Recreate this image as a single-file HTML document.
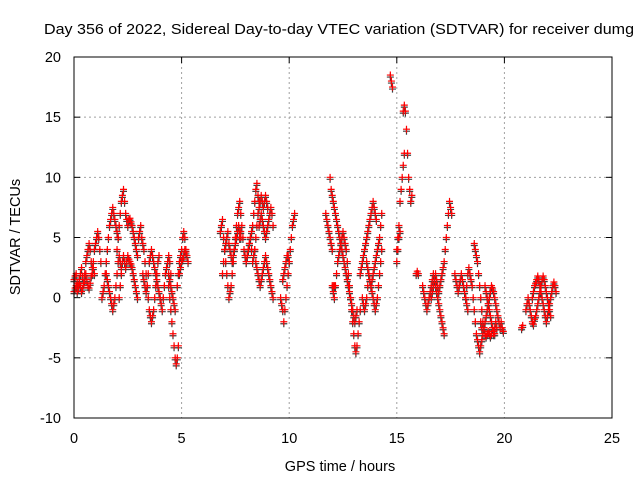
<!DOCTYPE html>
<html><head><meta charset="utf-8"><style>
body{margin:0;background:#fff;}
svg{display:block;font-family:"Liberation Sans",sans-serif;}
</style></head><body>
<svg id="chart" width="640" height="480" xmlns="http://www.w3.org/2000/svg">
<rect width="640" height="480" fill="#fff"/>
<text x="44" y="34" font-size="14.5" fill="#000" textLength="590" lengthAdjust="spacingAndGlyphs">Day 356 of 2022, Sidereal Day-to-day VTEC variation (SDTVAR) for receiver dumg</text>
<g id="grid"></g>
<g id="ticks"></g>
<g id="pts"></g>
<rect x="74" y="57" width="538" height="361" fill="none" stroke="#000" stroke-width="1"/>
<text x="340" y="471" font-size="14.5" text-anchor="middle">GPS time / hours</text>
<text transform="translate(20,237) rotate(-90)" font-size="14.5" text-anchor="middle">SDTVAR / TECUs</text>
</svg>
<script>
const xTicks=[0,5,10,15,20,25];
const yTicks=[20,15,10,5,0,-5,-10];
const step=0.05;
const groupStarts=[0,0,1.3,1.5,2.0,2.1,3.0,3.2,4.0,4.4,4.4,4.8,4.9,6.8,6.9,7.7,8.0,8.4,8.6,9.6,9.7,11.7,11.9,12.0,13.3,13.4,13.6,14.7,15.0,15.3,15.0,15.9,16.2,16.6,17.7,18.2,18.6,18.9,19.1,20.8,21.0,21.3];
const groupValues=[
[1.5,1.8,2,1.2,1,1.5,2,2.5,1.8,1.2,2,3,3.5,4,4.5,4,3,2.5,3,4,4.5,5,5.5,5,4,3],
[0.5,0.8,1,0.5,0.8,1.2,1,0.5,0.8,1.2,1.5,2,1.5,1,0.8,1.2,1.8,2,2.5,2],
[0,0.5,1,2,3,4,5,6,6.5,7,7.5,7,6.5,6,5.5,5],
[2,1.5,1,0.5,0,-0.5,-1,-0.5,0,1,2,3,3.5,3,2.5],
[4,5,6,7,8,8.5,9,8,7,6.5,6,6.5,6.6,6.3,6,5.5,5,4.5,4,3.5],
[0,1,2,3,3.5,3,2.5,3,3.5,3.2,3,2.8,2.5,2,1.5,1,0.5,0],
[5,5.5,6,5,4.5,4,3,2,1,0,-1,-1.5,-2,-1.5,-1,0,1,2,3,3.5],
[2,1.5,1,0.5,1,2,3,3.5,4,3.5,3,2.5,2,1.5,1,0.5,0],
[0,-0.5,-1,0,1,2,2.5,3,3.5,3,2],
[1,0,-1,-2,-3,-4,-5,-5.5,-5,-4],
[2,1.5,1,0.5,0,-0.5,-1],
[1,2,3,3.5,4,5,5.5,5,4,3.5,3],
[2,2.5,3,3.2,3.5,4,3.8],
[5.5,6,6.5,5,4,3,2,1,0,0.5,1,2,3,4,5,6,7,7.5,8,7],
[2,3,4,4.5,5,5.5,4.5,4,3.5,3,3.5,4,4.5,5,5.5,6,5.5,5],
[5,5.5,6,5,4,3.5,3,3.5,4,4.5,5,5.5,6,7,8,9,9.5,8.5,8],
[3,3.5,4,4.5,5,4,3,3.5,4,5,6,7,7.5,8,8.5,8,7.5,8,8.5,8,7.5],
[4,3,2.5,2,1.5,1,1.5,2,2.5,3,3.5,3,2.5,2,1.5,1,0.5,0],
[6,6.5,7,6.5,6,5.5,5,5.5,6,6.5,7,7.5,7,6],
[0,-0.5,-1,-2,-1,0,1,2,3,4,5,6,6.5,7],
[1.5,2,2.5,3,3.5,3.5,3],
[7,6.5,6,5.5,5,4.5,4,1,1],
[10,9,8.5,8,7.5,7,6.5,6,5.5,5,4.5,4,3.5,3,2.5,2,1.5,1,0.5,0,-0.5,-1,-1.5,-2,-1.5,-1],
[1,0.5,0,1,2,3,3.5,4,4.5,5,5.5,5,4.5,4,3,2,1,0,-1,-2,-3,-4,-4.5,-4,-3,-2,-1],
[2,2.5,3,3.5,4,4.5,5,5.5,6,6.5,7,7.5,8,7.5,7,6.5],
[0,-0.5,-1,-0.5,0,1,2,1.5,1,0.5,0,-0.5,-1,-0.5,0,1,2,3,4],
[3,2.5,2,1.5,1,1.5,2,2.5,3,3.5,4,4.5,5,6,7],
[18.5,18,17.5],
[4,5,6,8,9,10,11,12],
[15.5,16,15.5,14,12,10,9,8,8.5],
[3,4,5,5.5],
[2,2.2,2],
[1,0.5,0,-0.5,-1,-0.5,0,0.5,1,1.5,2,1.5,1,0.5,0,-0.5,-1,-1.5,-2,-2.5,-3],
[0,0.5,1,1.5,2,1.5,1,0.5,1,1.5,2,2.5,3,4,5,6,7,8,7.5,7],
[2,1.5,1,0.5,1,1.5,2,1.5,1,0.5,0,-0.5,-1],
[0,1,2,2.5,2,1.5,1,0,-1,-2,-3,-3.5,-4,-4.5,-4,-3.5],
[4.5,4,3.5,3,2,1,0,-1,-2,-2.5,-3,-3.2,-3,-2.8,-3,-3.2,-3,-2.5,-2.8,-3],
[-2,-2.5,-3,-2.5,-2,-1.5,-1,-0.5,0,0.5,1,0.8,0.5,0,-0.5,-1,-1.5,-2,-2.5,-2,-2.5,-2.8],
[1,0.5,0,-0.5,-1,-1.5,-2,-2.5,-3,-2.5,-2,-2.5],
[-2.5,-2.3],
[-1,-0.5,0,-0.5,-1,-1.5,-2,-2.2,-1.8,-1.5,-1,-0.5,0,0.5,1,1.5,1.8,1.5,1,0.5,0,-0.5,-1,-1.5],
[0,0.5,1,1.2,1.5,1.8,1.5,1,0.5,0,-0.5,-1,-1.5,-2,-1.5,-1,-0.5,0,0.5,1,1.3,1,0.5]
];
const NS="http://www.w3.org/2000/svg";
const X0=74,X1=612,Y0=418,Y1=57;
function xs(t){return X0+(t-0)/(25-0)*(X1-X0);}
function ys(v){return Y0-(v+10)/(30)*(Y0-Y1);}
function mk(tag,attrs,parent){const e=document.createElementNS(NS,tag);for(const k in attrs)e.setAttribute(k,attrs[k]);parent.appendChild(e);return e;}
const grid=document.getElementById('grid'),ticks=document.getElementById('ticks'),pts=document.getElementById('pts');
xTicks.forEach(t=>{
  const x=xs(t);
  if(t>0&&t<25){const g=mk('line',{x1:x,x2:x,y1:Y1,y2:Y0,stroke:'#a0a0a0','stroke-dasharray':'2,3'},grid);
  
  }
  mk('line',{x1:x,x2:x,y1:Y1,y2:Y1+6,stroke:'#000'},ticks);
  const l=mk('text',{x:x,y:443,'font-size':'14.5','text-anchor':'middle'},ticks);
  l.textContent=t;
  
  
});
yTicks.forEach(v=>{
  const y=ys(v);
  if(v>-10&&v<20){const g=mk('line',{x1:X0,x2:X1,y1:y,y2:y,stroke:'#a0a0a0','stroke-dasharray':'2,3'},grid);
  
  }
  mk('line',{x1:X0,x2:X0+6,y1:y,y2:y,stroke:'#000'},ticks);
  mk('line',{x1:X1,x2:X1-6,y1:y,y2:y,stroke:'#000'},ticks);
  const l=mk('text',{x:61,y:y+5,'font-size':'14.5','text-anchor':'end'},ticks);
  l.textContent=v;
  
  
});
function plus(x,y,c){
  return mk('path',{d:`M${x-3.5},${y}H${x+3.5}M${x},${y-3.5}V${y+3.5}`,stroke:c,'stroke-width':'1.2',fill:'none'},pts);
}
groupStarts.forEach((s,gi)=>{
  groupValues[gi].forEach((v,i)=>{
    const t=s+i*step;
    const d=plus(xs(t),ys(v)+2,'#404040');
    
    
  });
});
groupStarts.forEach((s,gi)=>{
  groupValues[gi].forEach((v,i)=>{
    const t=s+i*step;
    const r=plus(xs(t),ys(v),'#ff0000');
    
    
  });
});
</script>
</body></html>
